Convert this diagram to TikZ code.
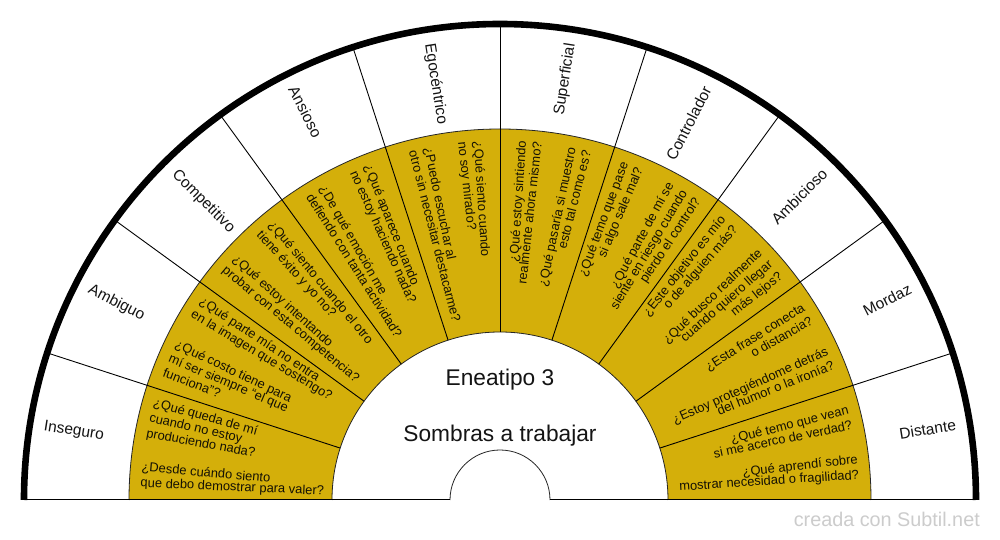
\documentclass[tikz,border=0pt]{standalone}
\usepackage{fontspec}
\setmainfont{Liberation Sans}
\definecolor{gold}{RGB}{212,175,10}
\definecolor{qtext}{RGB}{20,17,5}
\definecolor{wmark}{RGB}{204,204,204}
\newcommand\qL[3]{\node[qline, anchor=mid west, rotate=#2+180] (#1) at (#2:360pt) {#3};}
\newcommand\qR[3]{\node[qline, anchor=mid east, rotate=#2] (#1) at (#2:360pt) {#3};}
\newcommand\lL[3]{\node[lab, anchor=mid west, rotate=#2+180] (#1) at (#2:462pt) {#3};}
\newcommand\lR[3]{\node[lab, anchor=mid east, rotate=#2] (#1) at (#2:462pt) {#3};}
\begin{document}
\begin{tikzpicture}[x=1pt,y=1pt,
  qline/.style={inner sep=0pt, text=qtext, font=\fontsize{12.9pt}{14pt}\selectfont},
  lab/.style={inner sep=0pt, text=black!92, font=\fontsize{15.5pt}{18pt}\selectfont},
  ctr/.style={inner sep=0pt, text=black!92, font=\fontsize{22.7pt}{26pt}\selectfont, anchor=base},
  thinedge/.style={draw=black!85, line width=0.8pt},
  radial/.style={draw=black, line width=0.9pt}]
\useasboundingbox (-500,-40) rectangle (500,500);
\fill[white] (-500,-40) rectangle (500,500);
% gold ring
\fill[gold] (371,0) arc[start angle=0,end angle=180,radius=371] -- (-168,0) arc[start angle=180,end angle=0,radius=168] -- cycle;
\draw[thinedge] (371,0) arc[start angle=0,end angle=180,radius=371];
\draw[thinedge] (168,0) arc[start angle=0,end angle=180,radius=168];
\draw[thinedge] (50,0) arc[start angle=0,end angle=180,radius=50];
% radial dividers
\foreach \a in {18,36,...,162} \draw[radial] (\a:168) -- (\a:473);
% baseline
\draw[black, line width=1pt] (-479,0) -- (-50,0);
\draw[black, line width=1pt] (50,0) -- (479,0);
% outer thick arc
\draw[line width=6.6pt] (476,0) arc[start angle=0,end angle=180,radius=476];
% outer labels
\lL{inseguro}{171}{Inseguro}
\lL{ambiguo}{153}{Ambiguo}
\lL{competitivo}{135}{Competitivo}
\lL{ansioso}{117}{Ansioso}
\lL{egocentrico}{99}{Egocéntrico}
\lR{superficial}{81}{Superficial}
\lR{controlador}{63}{Controlador}
\lR{ambicioso}{45}{Ambicioso}
\lR{mordaz}{27}{Mordaz}
\lR{distante}{9}{Distante}
% Inseguro
\qL{ins1}{164.5}{¿Qué queda de mí}
\qL{ins2}{167}{cuando no estoy}
\qL{ins3}{169.5}{produciendo nada?}
\qL{ins4}{175}{¿Desde cuándo siento}
\qL{ins5}{177.5}{que debo demostrar para valer?}
% Ambiguo
\qL{amb1}{146.5}{¿Qué parte mía no entra}
\qL{amb2}{149}{en la imagen que sostengo?}
\qL{amb3}{154.5}{¿Qué costo tiene para}
\qL{amb4}{157}{mí ser siempre “el que}
\qL{amb5}{159.5}{funciona”?}
% Competitivo
\qL{com1}{129.75}{¿Qué siento cuando el otro}
\qL{com2}{132.25}{tiene éxito y yo no?}
\qL{com3}{137.75}{¿Qué estoy intentando}
\qL{com4}{140.25}{probar con esta competencia?}
% Ansioso
\qL{ans1}{111.75}{¿Qué aparece cuando}
\qL{ans2}{114.25}{no estoy haciendo nada?}
\qL{ans3}{119.75}{¿De qué emoción me}
\qL{ans4}{122.25}{defiendo con tanta actividad?}
% Egocentrico
\qL{ego1}{93.75}{¿Qué siento cuando}
\qL{ego2}{96.25}{no soy mirado?}
\qL{ego3}{101.75}{¿Puedo escuchar al}
\qL{ego4}{104.25}{otro sin necesitar destacarme?}
% Superficial
\qR{sup1}{86.25}{¿Qué estoy sintiendo}
\qR{sup2}{83.75}{realmente ahora mismo?}
\qR{sup3}{78.25}{¿Qué pasaría si muestro}
\qR{sup4}{75.75}{esto tal como es?}
% Controlador
\qR{con1}{69.5}{¿Qué temo que pase}
\qR{con2}{67}{si algo sale mal?}
\qR{con3}{61.5}{¿Qué parte de mí se}
\qR{con4}{59}{siente en riesgo cuando}
\qR{con5}{56.5}{pierdo el control?}
% Ambicioso
\qR{abc1}{51.5}{¿Este objetivo es mío}
\qR{abc2}{49}{o de alguien más?}
\qR{abc3}{43.5}{¿Qué busco realmente}
\qR{abc4}{41}{cuando quiero llegar}
\qR{abc5}{38.5}{más lejos?}
% Mordaz
\qR{mor1}{32.25}{¿Esta frase conecta}
\qR{mor2}{29.75}{o distancia?}
\qR{mor3}{24.25}{¿Estoy protegiéndome detrás}
\qR{mor4}{21.75}{del humor o la ironía?}
% Distante
\qR{dis1}{14.25}{¿Qué temo que vean}
\qR{dis2}{11.75}{si me acerco de verdad?}
\qR{dis3}{6.25}{¿Qué aprendí sobre}
\qR{dis4}{3.75}{mostrar necesidad o fragilidad?}
% centre
\node[ctr] (title) at (0,114.3) {Eneatipo 3};
\node[ctr] (subtitle) at (0,58.3) {Sombras a trabajar};
% watermark
\node[inner sep=0pt, anchor=base east, text=wmark, font=\fontsize{19.8pt}{22pt}\selectfont] (credit) at (480,-26.7) {creada con Subtil.net};
\end{tikzpicture}
\end{document}
